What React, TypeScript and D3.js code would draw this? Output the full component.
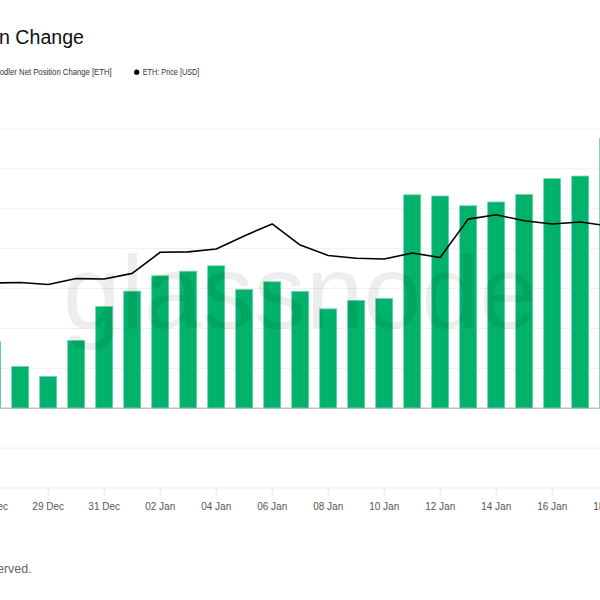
import React from "react";
import * as d3 from "d3";

const dates = [
  "2023-12-27","2023-12-28","2023-12-29","2023-12-30","2023-12-31",
  "2024-01-01","2024-01-02","2024-01-03","2024-01-04","2024-01-05",
  "2024-01-06","2024-01-07","2024-01-08","2024-01-09","2024-01-10",
  "2024-01-11","2024-01-12","2024-01-13","2024-01-14","2024-01-15",
  "2024-01-16","2024-01-17","2024-01-18",
];
const netPositionChange = [
  333000, 209000, 159000, 340000, 510000,
  587000, 664000, 687000, 714000, 596000,
  634000, 586000, 498000, 540000, 550000,
  1070000, 1064000, 1015000, 1034000, 1072000,
  1151000, 1164000, 1355000,
];
const ethPrice = [
  2314, 2315, 2310, 2325, 2324,
  2338, 2391, 2392, 2399, 2432,
  2462, 2409, 2383, 2376, 2374,
  2389, 2378, 2474, 2485, 2470,
  2462, 2467, 2457,
];
const leftTicks = [-400000, -200000, 0, 200000, 400000, 600000, 800000, 1000000, 1200000, 1400000];

const title = "ETH: Hodler Net Position Change";
const legendBars = "Hodler Net Position Change [ETH]";
const legendLine = "ETH: Price [USD]";
const copyright = "© 2024 Glassnode. All Rights Reserved.";

export default function App() {
  const W = 600, H = 600;
  const parse = d3.utcParse("%Y-%m-%d");
  const days = dates.map((d) => parse(d) as Date);

  const x = d3
    .scaleUtc()
    .domain([parse("2023-12-29") as Date, parse("2024-01-16") as Date])
    .range([48.2, 552.2]);
  const yL = d3.scaleLinear().domain([-400000, 1400000]).range([488, 129]);
  const yR = d3.scaleLinear().domain([1800, 2700]).range([488, 129]);
  const barW = 17;

  const tickDays = d3.utcDay.range(parse("2023-12-27") as Date, parse("2024-01-19") as Date, 2);
  const fmt = d3.utcFormat("%d %b");

  const line = d3
    .line<number>()
    .x((_, i) => x(days[i]))
    .y((v) => yR(v));

  const font = "'Liberation Sans', Arial, sans-serif";

  return (
    <svg
      width={W}
      height={H}
      style={{ position: "absolute", left: 0, top: 0, background: "#fff" }}
      fontFamily={font}
    >
      <rect x={0} y={0} width={W} height={H} fill="#fff" />
      <text x={84} y={44} fontSize={19.6} textAnchor="end" fill="#111">
        {title}
      </text>

      <text x={111.7} y={75} fontSize={9} textAnchor="end" fill="#333" textLength={117.5} lengthAdjust="spacingAndGlyphs">
        {legendBars}
      </text>
      <circle cx={136.7} cy={72.2} r={2.6} fill="#000" />
      <text x={142.7} y={75} fontSize={9} fill="#333" textLength={56.7} lengthAdjust="spacingAndGlyphs">
        {legendLine}
      </text>

      {/* gridlines */}
      {leftTicks.map((t) => (
        <line key={t} x1={0} x2={W} y1={yL(t)} y2={yL(t)} stroke={t === 0 ? "#bdbdbd" : "#efefef"} strokeWidth={1} />
      ))}

      {/* x ticks */}
      {tickDays.map((d) => (
        <g key={d.toISOString()}>
          <line x1={x(d)} x2={x(d)} y1={488} y2={496} stroke="#e6e6e6" strokeWidth={1} />
          <text x={x(d)} y={510} fontSize={10} textAnchor="middle" fill="#555">
            {fmt(d)}
          </text>
        </g>
      ))}

      {/* bars */}
      {netPositionChange.map((v, i) => (
        <rect
          key={i}
          x={x(days[i]) - barW / 2}
          y={Math.min(yL(v), yL(0))}
          width={barW}
          height={Math.abs(yL(0) - yL(v))}
          fill="#00b26b"
          stroke="#6fd3a5"
          strokeWidth={0.8}
        />
      ))}
      <line x1={0} x2={W} y1={yL(0)} y2={yL(0)} stroke="#bdbdbd" strokeWidth={1} />

      {/* watermark */}
      <text x={300} y={328} fontSize={104} textAnchor="middle" fill="#000" fillOpacity={0.07} fontFamily={font}>
        glassnode
      </text>

      {/* price line */}
      <path d={line(ethPrice) || ""} fill="none" stroke="#000" strokeWidth={1.6} strokeLinejoin="round" />

      <text x={31.7} y={573} fontSize={12.5} textAnchor="end" fill="#666">
        {copyright}
      </text>
    </svg>
  );
}
